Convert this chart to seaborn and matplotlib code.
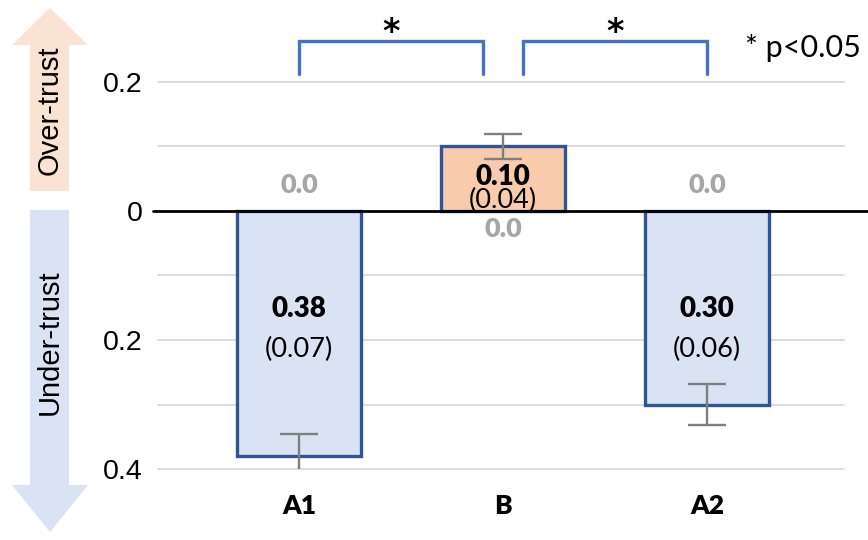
import matplotlib
matplotlib.use("Agg")
import matplotlib.pyplot as plt
from matplotlib.patches import Polygon
import seaborn as sns
import pandas as pd

# Trust calibration per condition (negative = under-trust, positive = over-trust)
conditions = ["A1", "B", "A2"]
trust_mean = [-0.38, 0.10, -0.30]
trust_sd = [0.07, 0.04, 0.06]
trust_err = [0.034, 0.019, 0.032]
baseline = [0.0, 0.0, 0.0]
ytick_values = [0.2, 0.0, -0.2, -0.4]
ytick_labels = ["0.2", "0", "0.2", "0.4"]
sig_pairs = [(0, 1), (1, 2)]
sig_note = "* p<0.05"

sns.set_theme(style="white")
plt.rcParams["font.family"] = ["Liberation Sans", "DejaVu Sans"]
plt.rcParams["text.color"] = "black"
plt.rcParams["xtick.color"] = "black"
plt.rcParams["ytick.color"] = "black"
plt.rcParams["axes.labelcolor"] = "black"

BLUE_FILL = "#DAE3F3"
ORANGE_FILL = "#F8CBAD"
EDGE = "#2F5597"
BRACKET = "#4472C4"
GRID = "#D9D9D9"
GREY_TXT = "#A6A6A6"
CAL = ["Lato", "DejaVu Sans"]

fig = plt.figure(figsize=(8.68, 5.4), dpi=100)
ax = fig.add_axes([0.18203, 0.13148, 0.79032, 0.71667])

df = pd.DataFrame({"cond": conditions, "mean": trust_mean})
colors = {c: (ORANGE_FILL if v > 0 else BLUE_FILL) for c, v in zip(conditions, trust_mean)}
sns.barplot(data=df, x="cond", y="mean", hue="cond", palette=colors, legend=False,
            saturation=1, width=0.61, edgecolor=EDGE, linewidth=2.4, ax=ax, zorder=3)

ax.errorbar(range(len(conditions)), trust_mean, yerr=trust_err, fmt="none",
            ecolor="#7F7F7F", elinewidth=1.7, capsize=14, capthick=1.7, zorder=4)

ax.set_xlim(-0.691, 2.672)
ax.set_ylim(-0.4, 0.2)

# light horizontal grid every 0.1, black zero baseline
for g in [0.2, 0.1, -0.1, -0.2, -0.3, -0.4]:
    ax.axhline(g, color=GRID, lw=1.3, zorder=0, clip_on=False)
ax.plot([-0.007, 1.035], [0, 0], color="black", lw=2.0,
        transform=ax.get_yaxis_transform(), clip_on=False, zorder=5)

for s in ax.spines.values():
    s.set_visible(False)
ax.set_yticks(ytick_values)
ax.set_yticklabels(ytick_labels, fontsize=20.5)
ax.tick_params(axis="y", length=0, pad=11)
ax.tick_params(axis="x", length=0, pad=18)
ax.set_xticks(range(len(conditions)))
ax.set_xticklabels(conditions, fontsize=19, fontweight="heavy", family=CAL)
ax.set_xlabel("")
ax.set_ylabel("")

# value labels inside bars
for i, (m, sd, z) in enumerate(zip(trust_mean, trust_sd, baseline)):
    if m < 0:
        y_main, y_sd, y_zero = -0.152, -0.215, z + 0.04
    else:
        y_main, y_sd, y_zero = m - 0.047, m - 0.084, z - 0.028
    ax.text(i, y_main, f"{abs(m):.2f}", ha="center", va="center", fontsize=20,
            fontweight="heavy", family=CAL, zorder=6)
    ax.text(i, y_sd, f"({sd:.2f})", ha="center", va="center", fontsize=19.5,
            family=CAL, zorder=6)
    ax.text(i, y_zero, f"{z:.1f}", ha="center", va="center", fontsize=19.5,
            fontweight="heavy", family=CAL, color=GREY_TXT, zorder=6)

# significance brackets
for (a, b) in sig_pairs:
    x0 = a + (0.0 if a == 0 else 0.1)
    x1 = b - (0.1 if a == 0 else 0.0)
    ax.plot([x0, x0, x1, x1], [0.213, 0.264, 0.264, 0.213], color=BRACKET,
            lw=2.4, clip_on=False, solid_joinstyle="miter")
    ax.text((x0 + x1) / 2, 0.276, "*", ha="center", va="center", fontsize=24,
            fontweight="bold", family=["DejaVu Sans"], clip_on=False)

fig.text(745 / 868, 1 - 48 / 540, sig_note, ha="left", va="center",
         fontsize=22, family=CAL)

# direction arrows along the left edge
ov = fig.add_axes([0, 0, 1, 1], zorder=-1)
ov.set_xlim(0, 868)
ov.set_ylim(540, 0)
ov.axis("off")
up = Polygon([(50, 8), (88, 45), (69, 45), (69, 191), (30, 191), (30, 45), (12, 45)],
             closed=True, facecolor="#FBE3D3", edgecolor="none")
down = Polygon([(30, 210), (69, 210), (69, 485), (88, 485), (50, 532), (12, 485), (30, 485)],
               closed=True, facecolor=BLUE_FILL, edgecolor="none")
ov.add_patch(up)
ov.add_patch(down)
ov.text(50, 110, "Over-trust", rotation=90, ha="center", va="center", fontsize=21)
ov.text(50, 342, "Under-trust", rotation=90, ha="center", va="center", fontsize=21)

fig.savefig("out.png", dpi=100)
